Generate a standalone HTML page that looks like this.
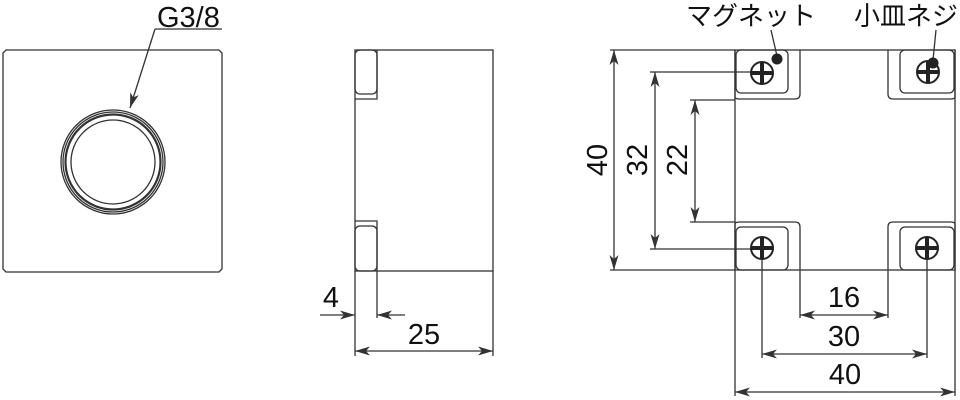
<!DOCTYPE html>
<html><head><meta charset="utf-8"><style>
html,body{margin:0;padding:0;background:#fff;}
svg{display:block}
text{font-family:"Liberation Sans","Noto Sans CJK JP",sans-serif;fill:#111}
</style></head><body>
<svg width="960" height="400" viewBox="0 0 960 400" xmlns="http://www.w3.org/2000/svg">
<defs>
<marker id="a" viewBox="0 0 15 9" refX="15" refY="4.5" markerWidth="15" markerHeight="9" markerUnits="userSpaceOnUse" orient="auto-start-reverse">
<path d="M0,0 L15,4.5 L0,9 L4,4.5 Z" fill="#333"/>
</marker>
</defs>
<g fill="none" stroke="#333" stroke-width="1.3">
<path d="M6,50 H219 L222,53 V269 L219,272 H6 L3,269 V53 Z"/>
<circle cx="113" cy="162" r="52"/>
<circle cx="113" cy="162" r="50"/>
<circle cx="113" cy="162" r="47.5" stroke-width="2.2"/>
<circle cx="113" cy="162" r="42"/>
<line x1="155" y1="29" x2="222" y2="29"/>
<line x1="155" y1="29" x2="130" y2="108" marker-end="url(#a)"/>

<rect x="355" y="50" width="138" height="221"/>
<rect x="355" y="50" width="22" height="44" rx="5"/>
<polyline points="355,99 377,99 377,50"/>
<rect x="355" y="226" width="22" height="45" rx="5"/>
<polyline points="355,221 377,221 377,318"/>
<line x1="355" y1="271" x2="355" y2="356"/>
<line x1="493" y1="271" x2="493" y2="356"/>
<line x1="320" y1="315" x2="355" y2="315" marker-end="url(#a)"/>
<line x1="405" y1="315" x2="377" y2="315" marker-end="url(#a)"/>
<line x1="355" y1="351" x2="493" y2="351" marker-start="url(#a)" marker-end="url(#a)"/>

<rect x="735" y="50" width="220" height="220"/>
<path d="M735,50 V97 Q735,99 740,99 H795 Q800,99 800,94 V50"/>
<rect x="736" y="50" width="52" height="43" rx="5"/>
<path d="M955,50 V97 Q955,99 950,99 H893 Q888,99 888,94 V50"/>
<rect x="900" y="50" width="54" height="43" rx="5"/>
<path d="M735,270 V224 Q735,222 740,222 H795 Q800,222 800,227 V270"/>
<rect x="736" y="227" width="52" height="43" rx="5"/>
<path d="M955,270 V224 Q955,222 950,222 H893 Q888,222 888,227 V270"/>
<rect x="900" y="227" width="54" height="43" rx="5"/>

<line x1="610" y1="50" x2="735" y2="50"/>
<line x1="610" y1="270" x2="735" y2="270"/>
<line x1="650" y1="72" x2="763" y2="72"/>
<line x1="650" y1="249" x2="763" y2="249"/>
<line x1="690" y1="100" x2="735" y2="100"/>
<line x1="690" y1="222" x2="735" y2="222"/>
<line x1="614" y1="50" x2="614" y2="270" marker-start="url(#a)" marker-end="url(#a)"/>
<line x1="655" y1="72" x2="655" y2="249" marker-start="url(#a)" marker-end="url(#a)"/>
<line x1="695" y1="100" x2="695" y2="222" marker-start="url(#a)" marker-end="url(#a)"/>

<line x1="735" y1="270" x2="735" y2="396"/>
<line x1="955" y1="270" x2="955" y2="396"/>
<line x1="800" y1="270" x2="800" y2="318"/>
<line x1="888" y1="270" x2="888" y2="318"/>
<line x1="762" y1="249" x2="762" y2="358"/>
<line x1="927" y1="249" x2="927" y2="358"/>
<line x1="800" y1="315" x2="888" y2="315" marker-start="url(#a)" marker-end="url(#a)"/>
<line x1="762" y1="354" x2="927" y2="354" marker-start="url(#a)" marker-end="url(#a)"/>
<line x1="735" y1="392" x2="955" y2="392" marker-start="url(#a)" marker-end="url(#a)"/>

<line x1="771" y1="30" x2="777" y2="56"/>
<line x1="936" y1="30" x2="933" y2="60"/>
</g>

<g stroke="#222" fill="#fff">
<circle cx="762" cy="73" r="11" stroke-width="2"/>
<circle cx="928" cy="72" r="11" stroke-width="2"/>
<circle cx="762" cy="248" r="11" stroke-width="2"/>
<circle cx="927" cy="248" r="11" stroke-width="2"/>
</g>
<g stroke="#222" stroke-width="4">
<path d="M751,73 H773 M762,62 V84"/>
<path d="M917,72 H939 M928,61 V83"/>
<path d="M751,248 H773 M762,237 V259"/>
<path d="M916,248 H938 M927,237 V259"/>
</g>
<circle cx="777" cy="59" r="5.5" fill="#222"/>
<circle cx="933" cy="63" r="5.5" fill="#222"/>

<text x="157" y="27" font-size="29">G3/8</text>
<text x="331" y="307" font-size="29" text-anchor="middle">4</text>
<text x="424" y="344" font-size="29" text-anchor="middle">25</text>
<text x="844" y="307" font-size="29" text-anchor="middle">16</text>
<text x="844" y="346" font-size="29" text-anchor="middle">30</text>
<text x="845" y="384" font-size="29" text-anchor="middle">40</text>
<text transform="translate(607,160) rotate(-90)" font-size="29" text-anchor="middle">40</text>
<text transform="translate(647,160) rotate(-90)" font-size="29" text-anchor="middle">32</text>
<text transform="translate(687,160) rotate(-90)" font-size="29" text-anchor="middle">22</text>
<text x="751" y="25" font-size="26" text-anchor="middle">マグネット</text>
<text x="906" y="25" font-size="26" text-anchor="middle">小皿ネジ</text>
</svg>
</body></html>
